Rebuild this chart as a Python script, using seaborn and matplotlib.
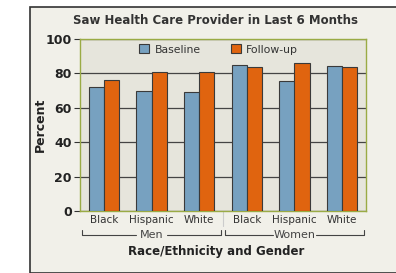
import pandas as pd
import matplotlib
matplotlib.use('Agg')
import matplotlib.pyplot as plt
import seaborn as sns
from matplotlib.patches import Rectangle

# data
groups = ['Black', 'Hispanic', 'White', 'Black ', 'Hispanic ', 'White ']
tick_labels = ['Black', 'Hispanic', 'White', 'Black', 'Hispanic', 'White']
baseline = [72, 69.5, 69, 85, 75.5, 84.5]
followup = [76, 81, 81, 84, 86, 84]
series = ['Baseline', 'Follow-up']
genders = ['Men', 'Women']

df = pd.DataFrame({
    'grupo': groups * 2,
    'valor': baseline + followup,
    'serie': [series[0]] * 6 + [series[1]] * 6,
})

sns.set_style('white')
plt.rcParams['font.family'] = ['DejaVu Sans']

fig = plt.figure(figsize=(3.96, 2.73), dpi=100)
fig.patch.set_facecolor('white')
# panel de fondo
fig.patches.append(Rectangle((30 / 396, 0), 1, 1 - 7 / 273, transform=fig.transFigure,
                             facecolor='#f1f0e9', edgecolor='#333333', linewidth=1.2, zorder=-10))

ax = fig.add_axes([80 / 396, 1 - 211 / 273, 286 / 396, 172 / 273])
ax.set_facecolor('#e6e5dc')

sns.barplot(data=df, x='grupo', y='valor', hue='serie', ax=ax,
            palette=['#77a1c0', '#e0640f'], width=0.63,
            edgecolor='#3a3a3a', linewidth=0.8, saturation=1, zorder=3)

ax.set_ylim(0, 100)
ax.set_xlim(-0.5, 5.5)
ax.set_yticks([0, 20, 40, 60, 80, 100])
ax.yaxis.grid(True, color='#444444', linewidth=0.9, zorder=1)
ax.set_axisbelow(True)
for s in ax.spines.values():
    s.set_color('#9aab45')
    s.set_linewidth(1)
ax.tick_params(axis='y', length=4, width=0.8, color='#333333', labelsize=9,
               labelcolor='#222222', left=True, pad=2)
for t in ax.get_yticklabels():
    t.set_fontweight('bold')
ax.tick_params(axis='x', length=0, labelsize=7.5, labelcolor='#333333', pad=3)
ax.set_xticks(range(6))
ax.set_xticklabels(tick_labels)
ax.set_xlabel('')
ax.set_ylabel('Percent', fontsize=9, fontweight='bold', color='#222222', labelpad=-1)

ax.legend(loc='upper center', ncol=2, frameon=False, fontsize=7.8,
          handlelength=0.9, handleheight=0.9, columnspacing=2.8,
          handletextpad=0.5, borderaxespad=0.1, labelcolor='#333333',
          bbox_to_anchor=(0.485, 1))

fig.text(0.545, 1 - 21 / 273, 'Saw Health Care Provider in Last 6 Months',
         ha='center', va='center', fontsize=8.5, fontweight='bold', color='#333333')

# separador entre hombres y mujeres
ax.plot([2.5, 2.5], [0, -0.09], transform=ax.get_xaxis_transform(),
        color='#cccccc', linewidth=0.8, clip_on=False)

# corchetes de genero
tr = ax.get_xaxis_transform()
yb = -0.14
for i, g in enumerate(genders):
    x0, x1 = i * 3 - 0.45, i * 3 + 2.45
    xc = i * 3 + 1
    half = 0.33 if g == 'Men' else 0.45
    ax.plot([x0, x0, xc - half], [yb + 0.03, yb, yb], transform=tr,
            color='#444444', linewidth=0.8, clip_on=False)
    ax.plot([xc + half, x1, x1], [yb, yb, yb + 0.03], transform=tr,
            color='#444444', linewidth=0.8, clip_on=False)
    ax.text(xc, yb, g, transform=tr, ha='center', va='center',
            fontsize=8, color='#444444')

fig.text(0.545, 1 - 252 / 273, 'Race/Ethnicity and Gender',
         ha='center', va='center', fontsize=8.5, fontweight='bold', color='#222222')

plt.savefig('out.png', dpi=100)
